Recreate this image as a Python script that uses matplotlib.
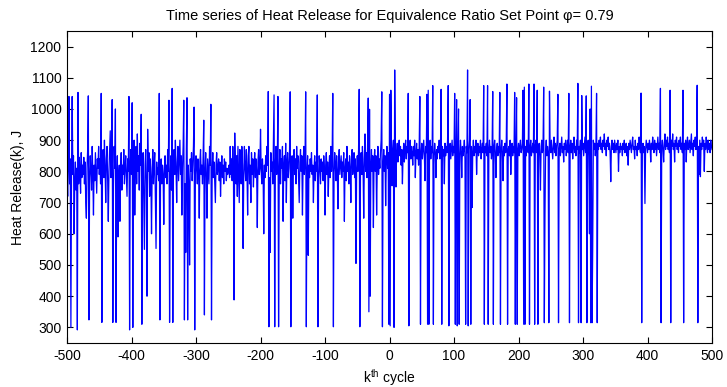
import numpy as np
import matplotlib
matplotlib.use("Agg")
import matplotlib.pyplot as plt

plt.rcParams['font.family'] = ['Liberation Sans', 'DejaVu Sans']
plt.rcParams['mathtext.fontset'] = 'custom'
plt.rcParams['mathtext.rm'] = 'Liberation Sans'
plt.rcParams['mathtext.it'] = 'Liberation Sans'

cycle_start = -500
cycle_end = 500

heat_release = [
    780, 720, 810, 1040, 760, 840, 300, 820, 1040, 790, 850, 600, 770, 830, 740, 810, 292, 1053, 760, 845, 800, 730, 860, 780, 820,
    790, 845, 760, 830, 700, 650, 810, 870, 1042, 324, 780, 850, 800, 740, 880, 790, 660, 820, 770, 860, 800, 730, 840, 810, 880,
    790, 840, 760, 1050, 316, 820, 870, 780, 900, 810, 700, 840, 880, 770, 640, 800, 860, 930, 780, 840, 1030, 316, 750, 880, 810,
    1000, 316, 760, 850, 590, 780, 820, 640, 800, 860, 740, 820, 790, 870, 760, 810, 850, 780, 720, 840, 800, 1040, 292, 820, 870,
    790, 1020, 300, 840, 900, 660, 810, 880, 760, 920, 800, 850, 740, 890, 820, 983, 310, 780, 860, 700, 550, 820, 870, 760, 400,
    935, 800, 860, 720, 840, 780, 600, 810, 870, 760, 820, 860, 700, 553, 830, 790, 810, 770, 1050, 324, 800, 840, 760, 820, 790,
    630, 810, 850, 780, 820, 760, 870, 800, 1028, 316, 780, 850, 740, 1066, 316, 820, 870, 790, 900, 810, 700, 830, 880, 770, 840,
    900, 790, 850, 660, 810, 880, 1028, 324, 760, 540, 870, 1036, 324, 820, 760, 500, 840, 800, 860, 770, 820, 880, 1006, 292, 790,
    850, 810, 760, 840, 800, 650, 830, 870, 790, 820, 760, 850, 964, 340, 800, 860, 780, 650, 840, 800, 760, 880, 820, 1015, 324,
    800, 860, 780, 830, 770, 700, 820, 860, 790, 810, 840, 770, 830, 720, 800, 850, 780, 820, 760, 840, 800, 830, 770, 810, 790,
    800, 820, 780, 880, 790, 840, 770, 880, 810, 388, 923, 800, 760, 850, 720, 880, 790, 700, 870, 800, 760, 880, 820, 553, 790,
    880, 810, 770, 870, 800, 660, 850, 880, 760, 820, 700, 860, 790, 840, 750, 820, 860, 780, 840, 800, 620, 830, 870, 790, 810,
    935, 800, 760, 840, 790, 600, 820, 780, 850, 800, 880, 820, 1056, 302, 780, 540, 860, 800, 830, 760, 900, 1045, 302, 820, 880,
    790, 830, 1040, 302, 800, 870, 760, 840, 810, 880, 640, 820, 850, 770, 890, 700, 830, 860, 780, 810, 870, 1055, 302, 800, 850,
    650, 820, 870, 790, 840, 760, 880, 810, 850, 780, 700, 830, 870, 800, 850, 660, 820, 880, 790, 840, 1055, 302, 800, 850, 531,
    820, 780, 840, 800, 860, 790, 820, 700, 810, 850, 770, 830, 800, 1045, 302, 780, 850, 810, 760, 840, 800, 830, 770, 850, 810,
    660, 820, 860, 790, 830, 720, 810, 850, 780, 880, 800, 840, 1050, 302, 790, 860, 820, 770, 850, 800, 680, 830, 870, 790, 820,
    850, 780, 830, 800, 860, 640, 810, 840, 770, 880, 800, 830, 760, 850, 810, 700, 840, 870, 790, 820, 860, 780, 840, 505, 810,
    850, 800, 870, 1063, 302, 820, 860, 790, 880, 810, 650, 840, 920, 800, 860, 780, 890, 1035, 350, 999, 400, 820, 870, 800, 850,
    620, 830, 870, 800, 850, 660, 820, 880, 790, 840, 810, 860, 900, 1055, 302, 820, 870, 800, 850, 690, 840, 880, 810, 860, 310,
    1047, 305, 1060, 840, 754, 870, 900, 300, 1125, 880, 750, 860, 890, 830, 870, 900, 850, 880, 820, 870, 760, 850, 890, 830, 870,
    900, 840, 880, 860, 1050, 305, 870, 900, 840, 880, 860, 820, 880, 850, 900, 780, 860, 890, 840, 870, 820, 880, 1040, 310, 860,
    890, 840, 870, 900, 850, 770, 880, 860, 1047, 310, 1060, 310, 870, 900, 840, 880, 860, 1075, 310, 850, 890, 860, 780, 870, 840,
    880, 860, 900, 840, 870, 1063, 310, 880, 850, 870, 760, 890, 850, 880, 860, 900, 1075, 305, 860, 890, 840, 870, 900, 850, 880,
    860, 1050, 310, 870, 1030, 305, 880, 1000, 310, 850, 900, 860, 780, 880, 850, 870, 900, 840, 310, 880, 860, 1125, 305, 870, 900,
    1030, 310, 880, 684, 860, 900, 850, 880, 860, 900, 790, 870, 890, 850, 880, 860, 900, 840, 870, 890, 860, 1075, 310, 880, 860,
    890, 850, 1075, 310, 870, 900, 860, 880, 840, 870, 1056, 310, 880, 900, 860, 780, 870, 890, 850, 880, 860, 1053, 310, 870, 900,
    860, 770, 880, 850, 890, 860, 900, 1080, 310, 870, 880, 850, 900, 790, 870, 890, 850, 880, 860, 1053, 310, 880, 1036, 310, 870,
    890, 850, 880, 900, 860, 870, 890, 1060, 310, 1070, 310, 880, 850, 900, 870, 860, 1080, 310, 880, 900, 850, 870, 890, 860, 1080,
    310, 880, 900, 860, 1060, 310, 870, 890, 850, 740, 880, 900, 860, 880, 1070, 315, 660, 870, 900, 850, 880, 860, 315, 1057, 880,
    860, 900, 870, 840, 880, 910, 860, 890, 850, 880, 900, 1047, 315, 870, 890, 850, 880, 910, 860, 880, 830, 890, 870, 900, 850,
    880, 900, 860, 1050, 315, 880, 900, 860, 890, 840, 880, 910, 860, 880, 850, 900, 870, 1082, 315, 880, 860, 900, 315, 1043, 870,
    890, 850, 880, 910, 860, 1042, 315, 880, 900, 850, 600, 1000, 315, 1073, 315, 550, 900, 870, 890, 850, 880, 1050, 315, 890, 870,
    900, 880, 910, 870, 890, 860, 900, 880, 920, 870, 890, 850, 900, 880, 910, 870, 890, 860, 767, 880, 900, 870, 890, 860, 900,
    880, 860, 890, 870, 900, 800, 880, 860, 890, 870, 880, 850, 890, 870, 900, 860, 880, 890, 850, 880, 820, 890, 870, 900, 880,
    860, 890, 910, 870, 880, 840, 900, 870, 880, 850, 890, 870, 910, 880, 860, 1051, 315, 870, 890, 860, 880, 697, 870, 900, 880,
    860, 890, 870, 900, 880, 830, 890, 870, 910, 880, 860, 900, 870, 890, 850, 880, 910, 870, 890, 860, 1066, 315, 880, 900, 870,
    830, 890, 920, 870, 900, 880, 910, 870, 890, 860, 1060, 315, 900, 880, 920, 870, 890, 830, 900, 880, 910, 870, 890, 860, 900,
    880, 910, 870, 890, 860, 1060, 315, 890, 870, 900, 830, 890, 910, 870, 880, 900, 860, 890, 920, 870, 890, 850, 900, 880, 910,
    870, 890, 1076, 315, 880, 790, 900, 783, 890, 870, 910, 880, 900, 800, 890, 870, 910, 880, 860, 900, 870, 890, 860, 900, 880,
    870,
]

cycles = np.arange(cycle_start, cycle_end + 1)[:len(heat_release)]

title_text = 'Time series of Heat Release for Equivalence Ratio Set Point \u03c6= 0.79'
x_label = r'k$^{\mathrm{th}}$ cycle'
y_label = 'Heat Release(k), J'
x_ticks = [-500, -400, -300, -200, -100, 0, 100, 200, 300, 400, 500]
y_ticks = [300, 400, 500, 600, 700, 800, 900, 1000, 1100, 1200]

fig = plt.figure(figsize=(7.27, 3.87), dpi=100)
ax = fig.add_axes([0.0922, 0.1137, 0.8872, 0.8063])
ax.plot(cycles, heat_release, color=(0, 0, 1), linewidth=0.9)

ax.set_xlim(-500, 500)
ax.set_ylim(250, 1250)
ax.set_xticks(x_ticks)
ax.set_yticks(y_ticks)
ax.set_xticklabels([str(t) for t in x_ticks])
ax.set_yticklabels([str(t) for t in y_ticks])
ax.tick_params(direction='in', top=True, right=True, length=4, width=0.8,
               labelsize=10, pad=4, colors='black')
for s in ax.spines.values():
    s.set_linewidth(0.8)
    s.set_color('black')

ax.set_title(title_text, fontsize=10.5, pad=8)
ax.set_xlabel(x_label, fontsize=10, labelpad=3)
ax.set_ylabel(y_label, fontsize=10, labelpad=4)

fig.savefig('out.png', dpi=100, facecolor='white')
